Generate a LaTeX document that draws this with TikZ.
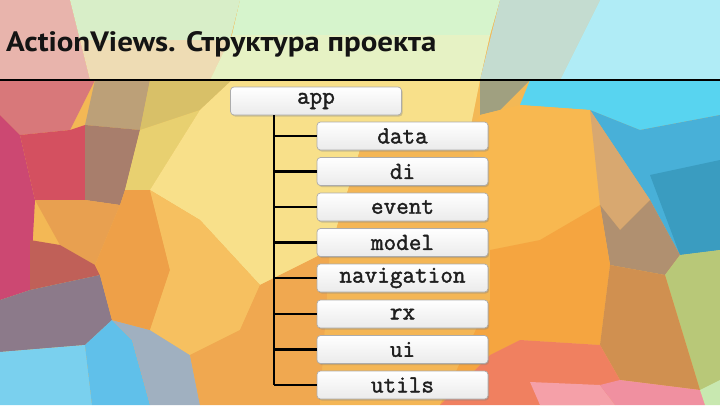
\documentclass[tikz,border=0pt]{standalone}
\usepackage{fontspec}
\usetikzlibrary{shadows}
\newfontfamily\titlefont{PT Sans}[BoldFont={* Bold}]
\newfontfamily\boxfont{Latin Modern Mono}[FakeBold=1.6]
\definecolor{c1}{HTML}{F3B855}
\tikzset{
  dirbox/.style={draw=gray!65, line width=0.7pt, rounded corners=3.5pt,
    top color=white, bottom color=gray!16, minimum width=171pt, minimum height=28pt,
    inner sep=0pt, text=black!88, font=\boxfont\fontsize{24.5}{26}\selectfont,
    drop shadow={shadow xshift=1.2pt, shadow yshift=-1.5pt, opacity=0.35}},
  treeline/.style={line width=2.6pt, black},
  rule/.style={line width=2.4pt, black}
}
\newcommand{\pg}[2]{\definecolor{pgtmp}{HTML}{#1}\fill[pgtmp] #2 -- cycle;}
\begin{document}
\begin{tikzpicture}[x=1pt,y=-1pt]
\useasboundingbox (0,0) rectangle (720,405);
\begin{scope}
\clip (0,0) rectangle (720,405);
\fill[c1] (0,0) rectangle (720,405);
% left
\pg{D8787A}{(0,80) -- (95,80) -- (70,130) -- (20,135) -- (0,115)}
\pg{CC4872}{(0,115) -- (20,135) -- (35,200) -- (30,290) -- (0,300)}
\pg{D45060}{(20,135) -- (70,130) -- (85,125) -- (85,200) -- (35,200)}
\pg{BCA078}{(95,80) -- (150,80) -- (140,130) -- (85,125)}
\pg{A87E6C}{(85,125) -- (140,130) -- (125,190) -- (120,205) -- (85,200)}
\pg{D8C068}{(150,80) -- (232,80) -- (200,110) -- (140,130)}
\pg{E8D070}{(140,130) -- (200,110) -- (150,190) -- (125,190)}
\pg{F8E08A}{(200,110) -- (232,80) -- (480,80) -- (470,130) -- (360,150) -- (330,250) -- (260,285) -- (200,220) -- (150,190)}
\pg{E8A050}{(35,200) -- (85,200) -- (120,205) -- (95,265) -- (60,245)}
\pg{C06058}{(30,240) -- (60,245) -- (95,265) -- (100,275) -- (30,290)}
\pg{8C7A8A}{(0,300) -- (30,290) -- (100,275) -- (112,320) -- (85,345) -- (0,352)}
\pg{7AD0EE}{(0,352) -- (85,345) -- (92,405) -- (0,405)}
\pg{60C0EA}{(85,345) -- (112,320) -- (132,340) -- (150,405) -- (92,405)}
\pg{A0B0C0}{(112,320) -- (150,330) -- (190,355) -- (200,405) -- (150,405) -- (132,340)}
\pg{EEA048}{(95,265) -- (120,205) -- (125,190) -- (150,190) -- (170,270) -- (150,330) -- (112,320) -- (100,275)}
\pg{F6C060}{(150,190) -- (200,220) -- (260,285) -- (240,330) -- (190,355) -- (150,330) -- (170,270)}
\pg{F0A850}{(240,330) -- (260,285) -- (330,250) -- (320,405) -- (200,405) -- (190,355)}
\pg{F4B655}{(330,250) -- (360,150) -- (470,130) -- (490,300) -- (440,405) -- (320,405)}
% right
\pg{A0A080}{(480,80) -- (530,80) -- (500,110) -- (480,115)}
\pg{58D4F0}{(530,80) -- (720,80) -- (720,115) -- (640,130) -- (590,110) -- (520,105)}
\pg{48B0D8}{(590,110) -- (640,130) -- (720,115) -- (720,250) -- (680,255) -- (650,200)}
\pg{3A9CC0}{(650,175) -- (720,160) -- (720,250) -- (680,255)}
\pg{F8B850}{(480,115) -- (500,110) -- (520,105) -- (590,110) -- (600,205) -- (540,240) -- (490,250) -- (470,130)}
\pg{D8A870}{(590,110) -- (650,200) -- (620,230) -- (600,205)}
\pg{B09070}{(600,205) -- (620,230) -- (650,200) -- (680,255) -- (665,275) -- (610,265)}
\pg{F5A540}{(490,250) -- (540,240) -- (600,205) -- (610,265) -- (600,345) -- (520,340) -- (490,355) -- (440,405) -- (490,300)}
\pg{B8C878}{(665,275) -- (680,255) -- (720,250) -- (720,390) -- (700,390)}
\pg{D09050}{(610,265) -- (665,275) -- (700,390) -- (620,380) -- (600,345)}
\pg{F08060}{(490,355) -- (520,340) -- (600,345) -- (620,380) -- (600,405) -- (440,405)}
\pg{F5A0A8}{(530,382) -- (600,385) -- (615,405) -- (540,405)}
\pg{F090A0}{(600,385) -- (620,380) -- (700,390) -- (705,405) -- (615,405)}
\pg{C8E8B0}{(700,390) -- (720,380) -- (720,405) -- (705,405)}
% top band
\pg{E8B4AC}{(0,0) -- (70,0) -- (90,80) -- (0,80)}
\pg{D8EEC8}{(70,0) -- (240,0) -- (230,40) -- (80,40)}
\pg{EEDCB4}{(80,40) -- (230,40) -- (210,80) -- (90,80)}
\pg{D6F4CC}{(240,0) -- (500,0) -- (490,35) -- (232,35)}
\pg{E6F2C4}{(232,35) -- (490,35) -- (480,80) -- (210,80)}
\pg{C4DCD0}{(500,0) -- (600,0) -- (560,80) -- (480,80)}
\pg{B0ECF6}{(600,0) -- (720,0) -- (720,80) -- (560,80)}
\end{scope}
% title and rule
\node[anchor=base west, inner sep=0pt, text=black!92] (title) at (6,51)
  {\titlefont\bfseries\fontsize{28}{30}\selectfont\scalebox{1.105}[1]{ActionViews. Структура проекта}};
\coordinate (rl) at (0,80);
\coordinate (rr) at (720,80);
\draw[rule] (rl) -- (rr);
% tree
\coordinate (trunk) at (274,101);
\node[dirbox] (app) at (316,101) {app};
\node[dirbox] (data) at (402.5,136) {data};
\node[dirbox] (di) at (402.5,171.5) {di};
\node[dirbox] (event) at (402.5,207) {event};
\node[dirbox] (model) at (402.5,242.5) {model};
\node[dirbox] (navigation) at (402.5,278) {navigation};
\node[dirbox] (rx) at (402.5,314) {rx};
\node[dirbox] (ui) at (402.5,349.5) {ui};
\node[dirbox] (utils) at (402.5,385) {utils};
\draw[treeline] (trunk |- app.south) -- (trunk |- utils.west);
\foreach \n in {data,di,event,model,navigation,rx,ui,utils}
  \draw[treeline] (trunk |- \n.west) -- (\n.west);
\end{tikzpicture}
\end{document}
